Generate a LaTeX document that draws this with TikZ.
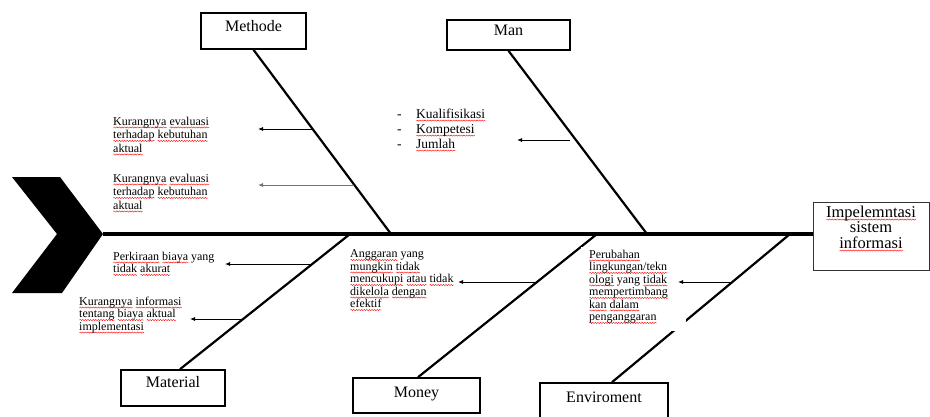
\documentclass[tikz,border=0pt]{standalone}
\usepackage{fontspec}
\setmainfont{Liberation Serif}
\usetikzlibrary{arrows.meta,decorations.pathmorphing}
\newsavebox\splbox
\newcommand\spl[1]{\sbox\splbox{#1}\makebox[0pt][l]{\tikz[baseline=0pt,x=1pt,y=1pt]\draw[red, line width=0.4pt, decorate, decoration={snake, amplitude=0.6pt, segment length=2.6pt}] (0,-2.4) -- (\the\wd\splbox,-2.4);}\usebox\splbox}
\begin{document}
\begin{tikzpicture}[x=1pt,y=-1pt,
  catbox/.style={draw, line width=1.6pt, inner sep=0pt, font=\fontsize{16}{18}\selectfont, anchor=base},
  bone/.style={line width=2.2pt},
  spineline/.style={line width=3.8pt},
  cause/.style={-{Latex[length=5pt,width=4pt]}, line width=0.8pt},
  ctext/.style={align=left, inner sep=0pt, anchor=north west, font=\fontsize{12}{12.5}\selectfont},
  ctextb/.style={ctext, font=\fontsize{12}{13.5}\selectfont}]
\useasboundingbox (0,0) rectangle (930,416);
% fish head (chevron)
\fill (12,177) -- (60,177) -- (103,234) -- (62,293) -- (12,293) -- (57,234) -- cycle;
\coordinate (tip) at (103,234);
% category boxes
\node[catbox, minimum width=105pt, text height=18pt, text depth=18pt] (methode) at (253.5,31) {Methode};
\node[catbox, minimum width=123pt, text height=15pt, text depth=15pt] (man) at (508.5,35) {Man};
\node[catbox, minimum width=104pt, text height=17pt, text depth=19pt] (material) at (173,387) {Material};
\node[catbox, minimum width=127pt, text height=19pt, text depth=16pt] (money) at (416.5,397) {Money};
\node[catbox, minimum width=128pt, text height=19pt, text depth=28pt] (env) at (604,402) {Enviroment};
% effect box
\node[draw=black!80, line width=0.8pt, minimum width=116pt, minimum height=68pt, inner sep=0pt] (goal) at (871,236) {};
\node[align=center, inner sep=0pt, anchor=north, font=\fontsize{16.5}{15.5}\selectfont] (goaltext) at (871,205.5) {\spl{Impelemntasi}\\sistem\\\spl{informasi}};
% spine
\draw[spineline] (tip) -- (tip -| goal.west);
% bones
\coordinate (jmeth) at (391,234);
\coordinate (jman) at (647,234);
\coordinate (jmat) at (350,234);
\coordinate (jmon) at (597,234);
\coordinate (jenv) at (790,234);
\draw[bone] (methode.south) -- (jmeth);
\draw[bone] (man.south) -- (jman);
\draw[bone] ([xshift=7pt]material.north) -- (jmat);
\draw[bone] ([xshift=1.5pt]money.north) -- (jmon);
\draw[bone] ([xshift=8pt]env.north) -- (jenv);
% white text area over money/environment bones
\fill[white] (581,247) rectangle (686,331);
% cause texts
\node[ctextb] (m1) at (113,116.5) {\spl{Kurangnya} \spl{evaluasi}\\\spl{terhadap} \spl{kebutuhan}\\\spl{aktual}};
\node[ctextb] (m2) at (113,173.5) {\spl{Kurangnya} \spl{evaluasi}\\\spl{terhadap} \spl{kebutuhan}\\\spl{aktual}};
\node[ctext, font=\fontsize{13.5}{15}\selectfont] (mn) at (397,108.5) {\makebox[19pt][l]{-}\spl{Kualifisikasi}\\\makebox[19pt][l]{-}\spl{Kompetesi}\\\makebox[19pt][l]{-}\spl{Jumlah}};
\node[ctext] (t1) at (113,251.5) {\spl{Perkiraan} \spl{biaya} yang\\\spl{tidak} \spl{akurat}};
\node[ctext] (t2) at (79,296.5) {\spl{Kurangnya} \spl{informasi}\\\spl{tentang} \spl{biaya} \spl{aktual}\\\spl{implementasi}};
\node[ctext] (mo) at (350,249.5) {\spl{Anggaran} yang\\\spl{mungkin} \spl{tidak}\\\spl{mencukupi} \spl{atau} \spl{tidak}\\\spl{dikelola} \spl{dengan}\\\spl{efektif}};
\node[ctext] (en) at (589,249.5) {\spl{Perubahan}\\\spl{lingkungan/tekn}\\\spl{ologi} yang \spl{tidak}\\\spl{mempertimbang}\\\spl{kan} \spl{dalam}\\\spl{penganggaran}};
% cause arrows
\coordinate (a1s) at (312,129); \coordinate (a1e) at (258,129);
\coordinate (a2s) at (354,185); \coordinate (a2e) at (258,185);
\coordinate (a3s) at (570,140); \coordinate (a3e) at (517,140);
\coordinate (a4s) at (312,264); \coordinate (a4e) at (225,264);
\coordinate (a5s) at (244,319); \coordinate (a5e) at (190,319);
\coordinate (a6s) at (537,282); \coordinate (a6e) at (458,282);
\coordinate (a7s) at (733,282); \coordinate (a7e) at (678,282);
\draw[cause] (a1s) -- (a1e);
\draw[cause, draw=black!55, fill=black] (a2s) -- (a2e);
\draw[cause] (a3s) -- (a3e);
\draw[cause] (a4s) -- (a4e);
\draw[cause] (a5s) -- (a5e);
\draw[cause] (a6s) -- (a6e);
\draw[cause] (a7s) -- (a7e);
\end{tikzpicture}
\end{document}
